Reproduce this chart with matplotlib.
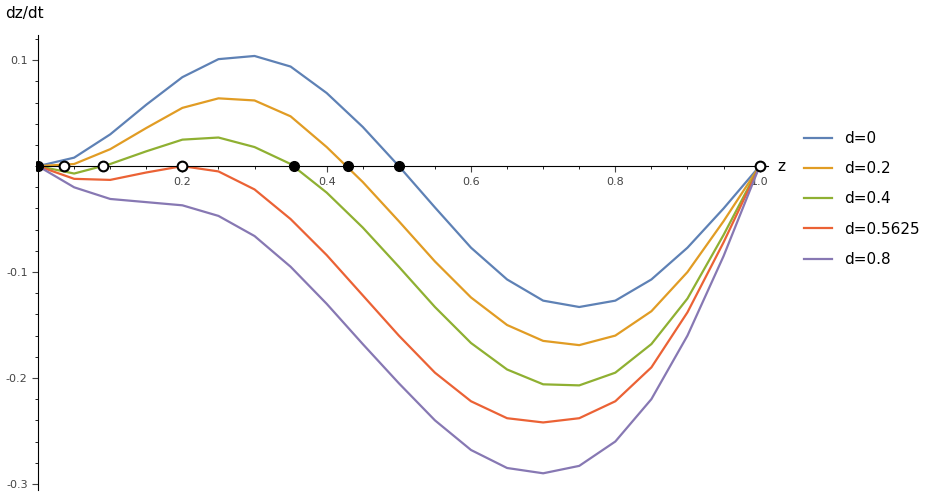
import matplotlib.pyplot as plt
from matplotlib.ticker import MultipleLocator

# values
z = [0, .05, .1, .15, .2, .25, .3, .35, .4, .45, .5, .55, .6, .65, .7, .75, .8, .85, .9, .95, 1]
d_labels = ['d=0', 'd=0.2', 'd=0.4', 'd=0.5625', 'd=0.8']
dz_d0 = [0, .008, .03, .058, .084, .101, .104, .094, .069, .037, 0, -.039, -.077, -.107, -.127, -.133, -.127, -.107, -.077, -.04, 0]
dz_d02 = [0, .002, .016, .036, .055, .064, .062, .047, .018, -.015, -.052, -.09, -.124, -.15, -.165, -.169, -.16, -.137, -.1, -.052, 0]
dz_d04 = [0, -.007, .002, .014, .025, .027, .018, .002, -.025, -.058, -.095, -.133, -.167, -.192, -.206, -.207, -.195, -.168, -.125, -.065, 0]
dz_d05625 = [0, -.012, -.013, -.006, 0, -.005, -.022, -.05, -.084, -.122, -.16, -.195, -.222, -.238, -.242, -.238, -.222, -.19, -.138, -.072, 0]
dz_d08 = [0, -.02, -.031, -.034, -.037, -.047, -.066, -.095, -.13, -.168, -.205, -.24, -.268, -.285, -.29, -.283, -.26, -.22, -.16, -.085, 0]
stable_z = [0, 0.355, 0.43, 0.5]
unstable_z = [0.036, 0.09, 0.2, 1.0]

colors = ['#5E81B5', '#E19C24', '#8FB032', '#EB6235', '#8778B3']
series = [dz_d0, dz_d02, dz_d04, dz_d05625, dz_d08]

fig = plt.figure(figsize=(9.45, 5.03), dpi=100)
ax = fig.add_axes([0.038, 0.026, 0.775, 0.904])

for vals, col, lab in zip(series, colors, d_labels):
    ax.plot(z, vals, color=col, lw=1.6, label=lab)

ax.plot(stable_z, [0] * len(stable_z), 'o', color='black', ms=7, zorder=5)
ax.plot(unstable_z, [0] * len(unstable_z), 'o', mfc='white', mec='black', mew=1.5, ms=7, zorder=5)

ax.set_xlim(-0.003, 1.012)
ax.set_ylim(-0.3057, 0.1236)
for s in ['top', 'right']:
    ax.spines[s].set_visible(False)
ax.spines['left'].set_position(('data', 0))
ax.spines['bottom'].set_position(('data', 0))
ax.xaxis.set_major_locator(MultipleLocator(0.2))
ax.xaxis.set_minor_locator(MultipleLocator(0.05))
ax.yaxis.set_major_locator(MultipleLocator(0.1))
ax.yaxis.set_minor_locator(MultipleLocator(0.02))
ax.set_xticks([0.2, 0.4, 0.6, 0.8, 1.0])
ax.set_xticklabels(['0.2', '0.4', '0.6', '0.8', '1.0'])
ax.set_yticks([0.1, -0.1, -0.2, -0.3])
ax.set_yticklabels(['0.1', '-0.1', '-0.2', '-0.3'])
ax.tick_params(labelsize=8, colors='#444444', length=4, width=0.8)
ax.tick_params(which='minor', length=2)

ax.text(1.025, 0, 'z', fontsize=11, va='center', transform=ax.transData, clip_on=False)
fig.text(0.005, 0.965, 'dz/dt', fontsize=11)

ax.legend(loc='center left', bbox_to_anchor=(1.03, 0.64), frameon=False,
          fontsize=11, handlelength=1.8, labelspacing=1.0)

fig.savefig('out.png', dpi=100)
